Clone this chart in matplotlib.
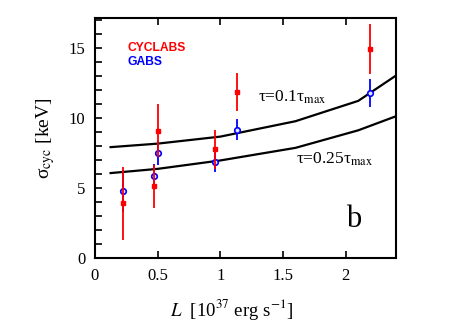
import numpy as np
import matplotlib
matplotlib.use('Agg')
from matplotlib import pyplot as plt
from matplotlib.ticker import MultipleLocator

plt.rcParams['font.family'] = ['Liberation Serif', 'DejaVu Serif']
plt.rcParams['mathtext.fontset'] = 'stix'

# CYCLABS (red squares)
L_cyc = [0.226, 0.47, 0.505, 0.96, 1.13, 2.197]
s_cyc = [3.9, 5.1, 9.07, 7.74, 11.86, 14.9]
e_cyc = [2.6, 1.55, 1.9, 1.4, 1.35, 1.75]

# GABS (blue circles)
L_gab = [0.226, 0.47, 0.505, 0.96, 1.13, 2.197]
s_gab = [4.79, 5.86, 7.48, 6.86, 9.14, 11.76]
e_gab = [1.5, 0.85, 0.85, 0.7, 0.75, 0.98]

# model curves
L_mod = [0.125, 0.5, 1.0, 1.6, 2.1, 2.4]
s_01 = [7.9, 8.15, 8.65, 9.75, 11.2, 13.0]
s_025 = [6.05, 6.35, 6.95, 7.85, 9.1, 10.1]

fig = plt.figure(figsize=(4.63, 3.24), dpi=100)
ax = fig.add_axes([0.205, 0.204, 0.65, 0.74])

ax.plot(L_mod, s_01, color='black', lw=1.6)
ax.plot(L_mod, s_025, color='black', lw=1.6)

ax.errorbar(L_gab, s_gab, yerr=e_gab, fmt='o', color='blue', ecolor='blue',
            mfc='#e0e0ff', mec='blue', ms=4, mew=1.2, elinewidth=1.3, capsize=0, zorder=3)
ax.errorbar(L_cyc, s_cyc, yerr=e_cyc, fmt='s', color='red', ecolor='red',
            ms=3.5, elinewidth=1.3, capsize=0, zorder=4)

ax.set_xlim(0, 2.4)
ax.set_ylim(0, 17.1)
ax.yaxis.set_major_locator(MultipleLocator(5))
ax.yaxis.set_minor_locator(MultipleLocator(1))
ax.set_xticks([0, 0.5, 1, 1.5, 2])
ax.set_xticklabels(['0', '0.5', '1', '1.5', '2'])
ax.tick_params(axis='x', which='major', direction='in', top=True, length=5, width=1.2, labelsize=12, pad=7)
ax.tick_params(axis='y', which='major', direction='in', right=False, length=5, width=1.2, labelsize=12, pad=7)
ax.tick_params(axis='y', which='minor', direction='in', right=False, length=5, width=1.2)
for sp in ax.spines.values():
    sp.set_linewidth(1.5)

ax.set_ylabel('σ$_{\\rm cyc}$ [keV]', fontsize=14, labelpad=8)
ax.set_xlabel('$L$  [10$^{37}$ erg s$^{-1}$]', fontsize=13.5, va='center')
ax.xaxis.set_label_coords(0.455, -0.215)

ax.text(0.26, 15.0, 'CYCLABS', color='red', fontsize=8.7, fontweight='bold',
        family='Liberation Sans', va='center')
ax.text(0.26, 14.0, 'GABS', color='blue', fontsize=8.7, fontweight='bold',
        family='Liberation Sans', va='center')
ax.text(1.30, 11.16, 'τ=0.1τ$_{\\rm max}$', fontsize=12.5, va='baseline')
ax.text(1.60, 6.75, 'τ=0.25τ$_{\\rm max}$', fontsize=12.5, va='baseline')
ax.text(2.0, 2.2, 'b', fontsize=22, va='baseline')

fig.savefig('out.png', dpi=100)
